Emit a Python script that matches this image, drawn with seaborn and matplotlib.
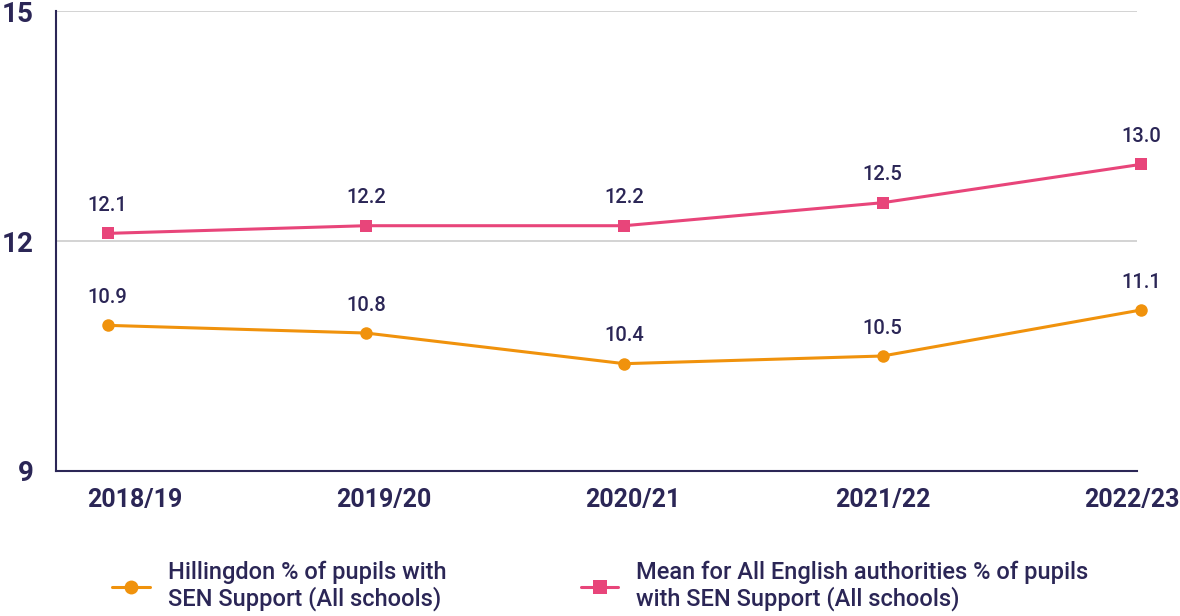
import matplotlib
matplotlib.use('Agg')
import matplotlib.pyplot as plt
import matplotlib.transforms as mtransforms
import numpy as np
import pandas as pd
import seaborn as sns

# Chart data
years = ['2018/19', '2019/20', '2020/21', '2021/22', '2022/23']
hillingdon = [10.9, 10.8, 10.4, 10.5, 11.1]
england_mean = [12.1, 12.2, 12.2, 12.5, 13.0]
series_names = ['Hillingdon % of pupils with\nSEN Support (All schools)',
                'Mean for All English authorities % of pupils\nwith SEN Support (All schools)']
y_ticks = [9, 12, 15]

navy = '#2b2656'
orange = '#f0920c'
pink = '#e8457a'

sns.set_theme(style='white')
plt.rcParams['font.family'] = ['Roboto', 'DejaVu Sans']

# Long table for seaborn
df = pd.DataFrame({
    'x': list(range(len(years))) * 2,
    'value': hillingdon + england_mean,
    'series': [series_names[0]] * len(years) + [series_names[1]] * len(years),
})

fig = plt.figure(figsize=(11.8, 6.16), dpi=100)
ax = fig.add_axes([0.0475, 0.2354, 0.916, 0.7466])

sns.lineplot(data=df, x='x', y='value', hue='series', style='series',
             palette=[orange, pink], markers=['o', 's'], dashes=False,
             linewidth=2.2, markersize=9, markeredgewidth=0, ax=ax,
             legend=False, clip_on=False)

# Value labels above points
for vals in (hillingdon, england_mean):
    for i, v in enumerate(vals):
        ax.annotate(f'{v:.1f}', (i, v), xytext=(0, 20), textcoords='offset points',
                    ha='center', va='center', fontsize=14.5, color=navy,
                    fontweight='medium', annotation_clip=False)

ax.set_xlim(-0.2, 3.985)
ax.set_ylim(9, 15)
ax.set_yticks(y_ticks)
ax.set_yticklabels([str(t) for t in y_ticks], fontsize=20, fontweight='bold', color=navy)
offset = mtransforms.ScaledTranslation(0, -10 / 100, fig.dpi_scale_trans)
for lbl in ax.get_yticklabels():
    lbl.set_transform(lbl.get_transform() + offset)

ax.set_xticks(np.arange(len(years)) * 0.965 + 0.105)
ax.set_xticklabels(years, fontsize=18, fontweight='bold', color=navy)
ax.tick_params(axis='x', length=0, pad=12)
ax.tick_params(axis='y', length=0, pad=16)
ax.set_xlabel('')
ax.set_ylabel('')

ax.grid(axis='y', color='#cccccc', linewidth=1.2)
ax.grid(axis='x', visible=False)
for side in ['top', 'right']:
    ax.spines[side].set_visible(False)
for side in ['left', 'bottom']:
    ax.spines[side].set_color(navy)
    ax.spines[side].set_linewidth(1.5)

# Legend below the chart
handles = [
    plt.Line2D([], [], color=orange, marker='o', markersize=10, linewidth=2.2, markeredgewidth=0),
    plt.Line2D([], [], color=pink, marker='s', markersize=10, linewidth=2.2, markeredgewidth=0),
]
leg = fig.legend(handles, series_names, loc='center left', bbox_to_anchor=(0.077, 0.049),
                 ncol=2, frameon=False, fontsize=17, labelcolor=navy,
                 handlelength=1.6, handletextpad=0.75, columnspacing=5.7,
                 labelspacing=0.3)
for t in leg.get_texts():
    t.set_fontweight('medium')
    t.set_linespacing(1.15)

fig.savefig('out.png', dpi=100)
